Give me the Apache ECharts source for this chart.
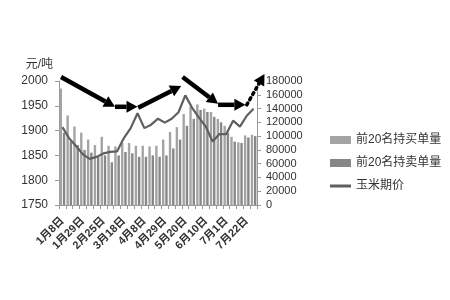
<!DOCTYPE html>
<html><head><meta charset="utf-8">
<script src="https://cdn.jsdelivr.net/npm/echarts@6/dist/echarts.min.js"></script>
<style>html,body{margin:0;padding:0;background:#fff}#c{width:450px;height:300px}</style>
</head><body><div id="c"></div>
<script>
const categories = ['1月8日','1月15日','1月22日','1月29日','2月5日','2月18日','2月25日','3月4日','3月11日','3月18日','3月25日','4月1日','4月8日','4月15日','4月22日','4月29日','5月6日','5月13日','5月20日','5月27日','6月3日','6月10日','6月17日','6月24日','7月1日','7月8日','7月15日','7月22日','7月29日'];
const buyVolume  = [169000,130000,114000,105000,95000,87000,99000,86000,85000,90000,90000,86000,86000,85000,86000,95000,106000,113000,132000,143000,146000,140000,135000,125000,115000,99000,91000,101000,102000];
const sellVolume = [105000,92000,87000,80000,76000,70000,72000,62000,72000,77000,75000,70000,70000,72000,70000,72000,82000,95000,115000,125000,138000,135000,128000,120000,105000,92000,90000,98000,100000];
const cornPrice  = [1907,1884,1869,1852,1843,1847,1854,1857,1858,1885,1905,1935,1905,1912,1924,1916,1924,1937,1971,1946,1926,1908,1878,1893,1893,1920,1908,1930,1944];
const priceTicks = {min:1750, max:2000, interval:50};
const volumeTicks = {min:0, max:180000, interval:20000};
// trend arrows (category index, price)
const arrows = [
  {from:[-0.2,2008], to:[7.7,1948], dotted:false},
  {from:[7.7,1948], to:[11.0,1948], dotted:false},
  {from:[11.1,1946], to:[17.4,1990], dotted:false},
  {from:[17.6,2008], to:[22.8,1954], dotted:false},
  {from:[22.8,1952], to:[26.8,1952], dotted:false},
  {from:[27.0,1952], to:[29.6,2014], dotted:true}
];
const FONT = '"Liberation Sans","Noto Sans CJK SC",sans-serif';
const plain = v => String(v);
const chart = echarts.init(document.getElementById('c'), null, {renderer:'canvas'});
chart.setOption({
  animation:false,
  backgroundColor:'#fff',
  grid:{left:59, right:193, top:81, bottom:95, containLabel:false},
  legend:{
    orient:'vertical', left:325, top:129, itemWidth:21, itemHeight:8, itemGap:11,
    textStyle:{fontSize:12, color:'#333', fontFamily:FONT},
    data:[{name:'前20名持买单量', icon:'rect'},{name:'前20名持卖单量', icon:'rect'},{name:'玉米期价', icon:'path://M0,0L21,0L21,3L0,3Z'}]
  },
  xAxis:{
    type:'category', data:categories, boundaryGap:true,
    axisLine:{lineStyle:{color:'#999'}},
    axisTick:{show:true, interval:0, length:4, lineStyle:{color:'#999'}},
    axisLabel:{interval:2, rotate:45, margin:14, fontSize:11, color:'#333', fontWeight:'bold', fontFamily:FONT}
  },
  yAxis:[
    {type:'value', min:priceTicks.min, max:priceTicks.max, interval:priceTicks.interval,
     name:'元/吨', nameLocation:'end', nameGap:10,
     nameTextStyle:{align:'right', padding:[0,6,0,0], fontSize:12, color:'#333', fontFamily:FONT},
     axisLine:{show:true, lineStyle:{color:'#999'}}, axisTick:{show:true, length:4, lineStyle:{color:'#999'}},
     splitLine:{show:false},
     axisLabel:{fontSize:12, color:'#333', margin:11, fontFamily:FONT, formatter:plain}},
    {type:'value', min:volumeTicks.min, max:volumeTicks.max, interval:volumeTicks.interval, position:'right',
     axisLine:{show:true, lineStyle:{color:'#999'}}, axisTick:{show:true, length:4, lineStyle:{color:'#999'}},
     splitLine:{show:false},
     axisLabel:{fontSize:11, color:'#333', margin:9, fontFamily:FONT, formatter:plain}}
  ],
  series:[
    {name:'前20名持买单量', type:'bar', yAxisIndex:1, data:buyVolume, barWidth:2.4, barGap:'35%', itemStyle:{color:'#a4a4a4'}},
    {name:'前20名持卖单量', type:'bar', yAxisIndex:1, data:sellVolume, barWidth:2.4, itemStyle:{color:'#878787'}},
    {name:'玉米期价', type:'line', yAxisIndex:0, data:cornPrice, symbol:'none', lineStyle:{width:2.2, color:'#5f5f5f'}, itemStyle:{color:'#5f5f5f'}, z:5}
  ]
});
function px(p){
  const x0 = chart.convertToPixel({xAxisIndex:0}, 0);
  const x1 = chart.convertToPixel({xAxisIndex:0}, 1);
  const y = chart.convertToPixel({yAxisIndex:0}, p[1]);
  return [x0 + p[0]*(x1-x0), y];
}
const g = [];
arrows.forEach(a=>{
  const s = px(a.from), e = px(a.to);
  const dx = e[0]-s[0], dy = e[1]-s[1], len = Math.hypot(dx,dy);
  const ux = dx/len, uy = dy/len, L = 11, W = 6;
  const bx = e[0]-ux*L, by = e[1]-uy*L;
  g.push({type:'line', z:100, shape:{x1:s[0], y1:s[1], x2:bx, y2:by},
    style:{stroke:'#000', lineWidth:a.dotted?3.5:4.5, lineDash:a.dotted?[2,4]:null, lineCap:a.dotted?'round':'butt'}});
  g.push({type:'polygon', z:100, shape:{points:[[e[0],e[1]],[bx-uy*W,by+ux*W],[bx+uy*W,by-ux*W]]}, style:{fill:'#000'}});
});
chart.setOption({graphic:g});
</script></body></html>
